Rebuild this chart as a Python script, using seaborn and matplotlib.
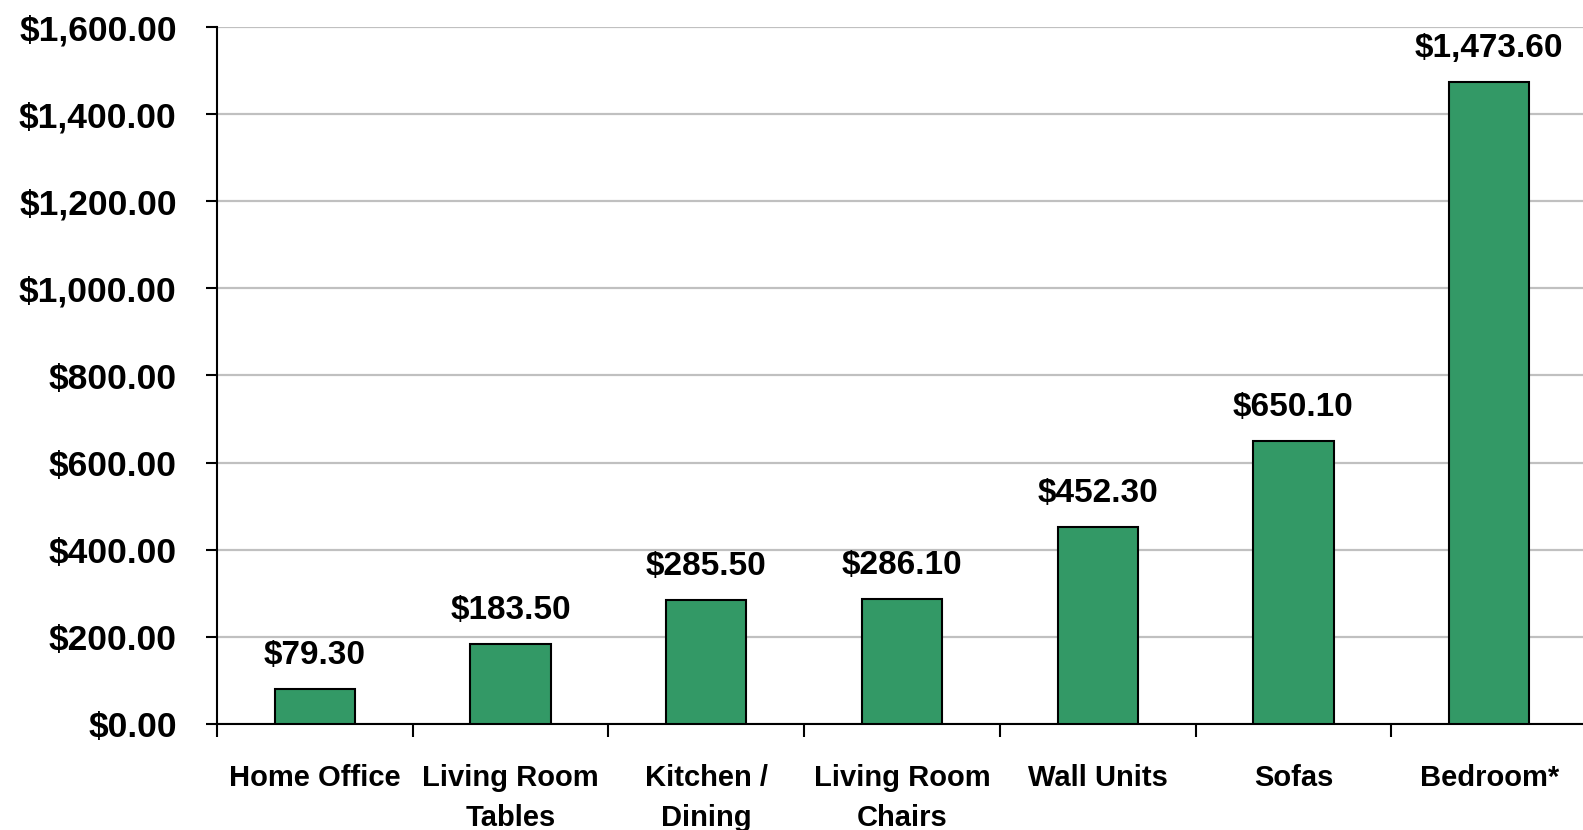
import matplotlib
matplotlib.use("Agg")
import matplotlib.pyplot as plt
from matplotlib.ticker import FixedLocator, FuncFormatter
import numpy as np
import pandas as pd
import seaborn as sns

categories = ["Home Office", "Living Room\nTables", "Kitchen /\nDining",
              "Living Room\nChairs", "Wall Units", "Sofas", "Bedroom*"]
values = [79.30, 183.50, 285.50, 286.10, 452.30, 650.10, 1473.60]
y_ticks = [0, 200, 400, 600, 800, 1000, 1200, 1400, 1600]

sns.set_theme(style="white")
plt.rcParams["font.family"] = ["Liberation Sans", "DejaVu Sans"]
plt.rcParams["font.weight"] = "bold"
plt.rcParams["text.color"] = "black"
plt.rcParams["xtick.color"] = "black"
plt.rcParams["ytick.color"] = "black"

df = pd.DataFrame({"category": categories, "value": values})

fig = plt.figure(figsize=(15.83, 8.30), dpi=100)
ax = fig.add_axes([217 / 1583, 106 / 830, 1370 / 1583, 697 / 830])

sns.barplot(data=df, x="category", y="value", color="#339966", saturation=1,
            width=0.41, edgecolor="black", linewidth=1.5, ax=ax, zorder=3)

ax.set_ylim(0, 1600)
ax.set_xlim(-0.5, len(categories) - 0.5)
ax.yaxis.set_major_locator(FixedLocator(y_ticks))
ax.yaxis.set_major_formatter(FuncFormatter(lambda v, p: "${:,.2f}".format(v)))
ax.grid(axis="y", color="#c0c0c0", linewidth=1.6, zorder=0)
ax.set_axisbelow(True)

for s in ["top", "right"]:
    ax.spines[s].set_visible(False)
for s in ["left", "bottom"]:
    ax.spines[s].set_color("black")
    ax.spines[s].set_linewidth(1.5)

ax.set_xlabel("")
ax.set_ylabel("")

ax.tick_params(axis="y", left=True, length=8, width=1.5, color="black",
               labelcolor="black", labelsize=25.5, pad=21)
ax.tick_params(axis="x", which="major", length=0, labelsize=21,
               labelcolor="black", pad=29)
ax.set_xticks(np.arange(-0.5, len(categories), 1.0), minor=True)
ax.tick_params(axis="x", which="minor", bottom=True, length=9, width=1.5,
               color="black")
for lbl in ax.get_xticklabels():
    lbl.set_fontweight("bold")
    lbl.set_linespacing(1.55)
for lbl in ax.get_yticklabels():
    lbl.set_fontweight("bold")

for i, v in enumerate(values):
    ax.annotate("${:,.2f}".format(v), (i, v), xytext=(0, 13),
                textcoords="offset points", ha="center", va="bottom",
                fontsize=24, fontweight="bold", color="black")

fig.savefig("out.png", dpi=100)
